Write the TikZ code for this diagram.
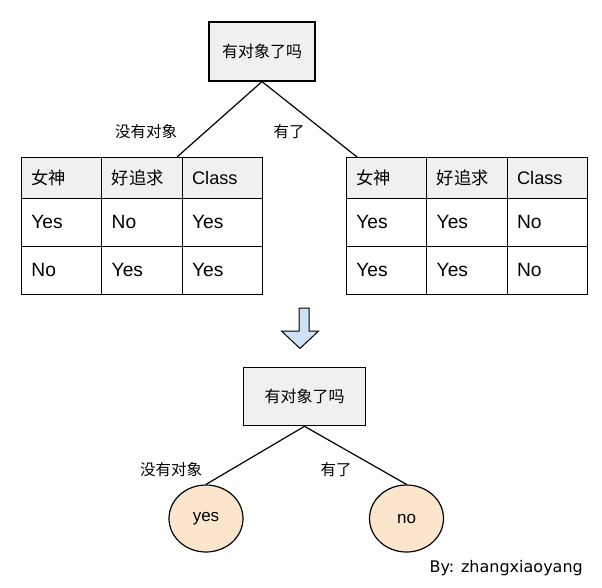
\documentclass[tikz,border=0pt]{standalone}
\usepackage{fontspec}
\setmainfont{Liberation Sans}
\newfontfamily\cjk{Noto Sans CJK SC}
\newfontfamily\signfont{DejaVu Sans}
\usetikzlibrary{shapes.geometric}
\definecolor{boxgray}{HTML}{F0F0F0}
\definecolor{peach}{HTML}{FCE5CD}
\definecolor{arrowblue}{HTML}{CFE2F3}
\tikzset{
  decision/.style={draw, line width=1.2pt, fill=boxgray, inner sep=0pt,
    font=\cjk\fontsize{16}{16}\selectfont},
  cellbox/.style={draw, line width=0.8pt, anchor=north west, inner ysep=0pt,
    inner xsep=10pt, text width=60.33pt, align=left, minimum height=48pt,
    font=\fontsize{19.2}{19.2}\selectfont},
  headcell/.style={cellbox, fill=boxgray, minimum height=41pt,
    font=\cjk\fontsize{17.3}{17.3}\selectfont},
  leaf/.style={ellipse, draw, line width=1.2pt, fill=peach, minimum width=74pt,
    minimum height=67pt, inner sep=0pt, font=\fontsize{17}{17}\selectfont},
  edgelabel/.style={font=\cjk\fontsize{15.5}{15.5}\selectfont, inner sep=0pt},
  branch/.style={line width=1.2pt}
}
\begin{document}
\begin{tikzpicture}[x=1pt,y=-1pt]
\useasboundingbox (0,0) rectangle (602,587);

% top decision
\node[decision, minimum width=106pt, minimum height=59pt] (q1) at (262,51.5) {有对象了吗};

% left table
\node[headcell] (L11) at (21,157) {女神};
\node[headcell] (L12) at (101.33,157) {好追求};
\node[headcell, font=\fontsize{18.2}{18.2}\selectfont] (L13) at (181.67,157) {Class};
\node[cellbox] (L21) at (21,198) {Yes};
\node[cellbox] (L22) at (101.33,198) {No};
\node[cellbox] (L23) at (181.67,198) {Yes};
\node[cellbox] (L31) at (21,246) {No};
\node[cellbox] (L32) at (101.33,246) {Yes};
\node[cellbox] (L33) at (181.67,246) {Yes};

% right table
\node[headcell] (R11) at (346,157) {女神};
\node[headcell] (R12) at (426.33,157) {好追求};
\node[headcell, font=\fontsize{18.2}{18.2}\selectfont] (R13) at (506.67,157) {Class};
\node[cellbox] (R21) at (346,198) {Yes};
\node[cellbox] (R22) at (426.33,198) {Yes};
\node[cellbox] (R23) at (506.67,198) {No};
\node[cellbox] (R31) at (346,246) {Yes};
\node[cellbox] (R32) at (426.33,246) {Yes};
\node[cellbox] (R33) at (506.67,246) {No};

\coordinate (lend) at (177,157);
\coordinate (rend) at (357,157);
\draw[branch] (q1.south) -- (lend);
\draw[branch] (q1.south) -- (rend);
\node[edgelabel] (l1) at (146,132) {没有对象};
\node[edgelabel] (l2) at (289,132) {有了};

% big arrow
\draw[line width=1pt, fill=arrowblue, line join=miter]
  (299,308) -- (309,308) -- (309,331) -- (318.5,331) -- (300,348.5)
  -- (281.5,331) -- (299,331) -- cycle;

% bottom tree
\node[decision, minimum width=122pt, minimum height=58pt] (q2) at (304.5,396.7) {有对象了吗};
\node[leaf] (yes) at (206,518.5) {yes};
\node[leaf] (no) at (406.5,518.5) {no};
\draw[branch] (q2.south) -- (yes.north);
\draw[branch] (q2.south) -- (no.north);
\node[edgelabel] (l3) at (171,470) {没有对象};
\node[edgelabel] (l4) at (336,470) {有了};

\node[anchor=east, inner sep=0pt, font=\signfont\fontsize{16}{16}\selectfont] (by) at (583,568) {By: zhangxiaoyang};
\end{tikzpicture}
\end{document}
